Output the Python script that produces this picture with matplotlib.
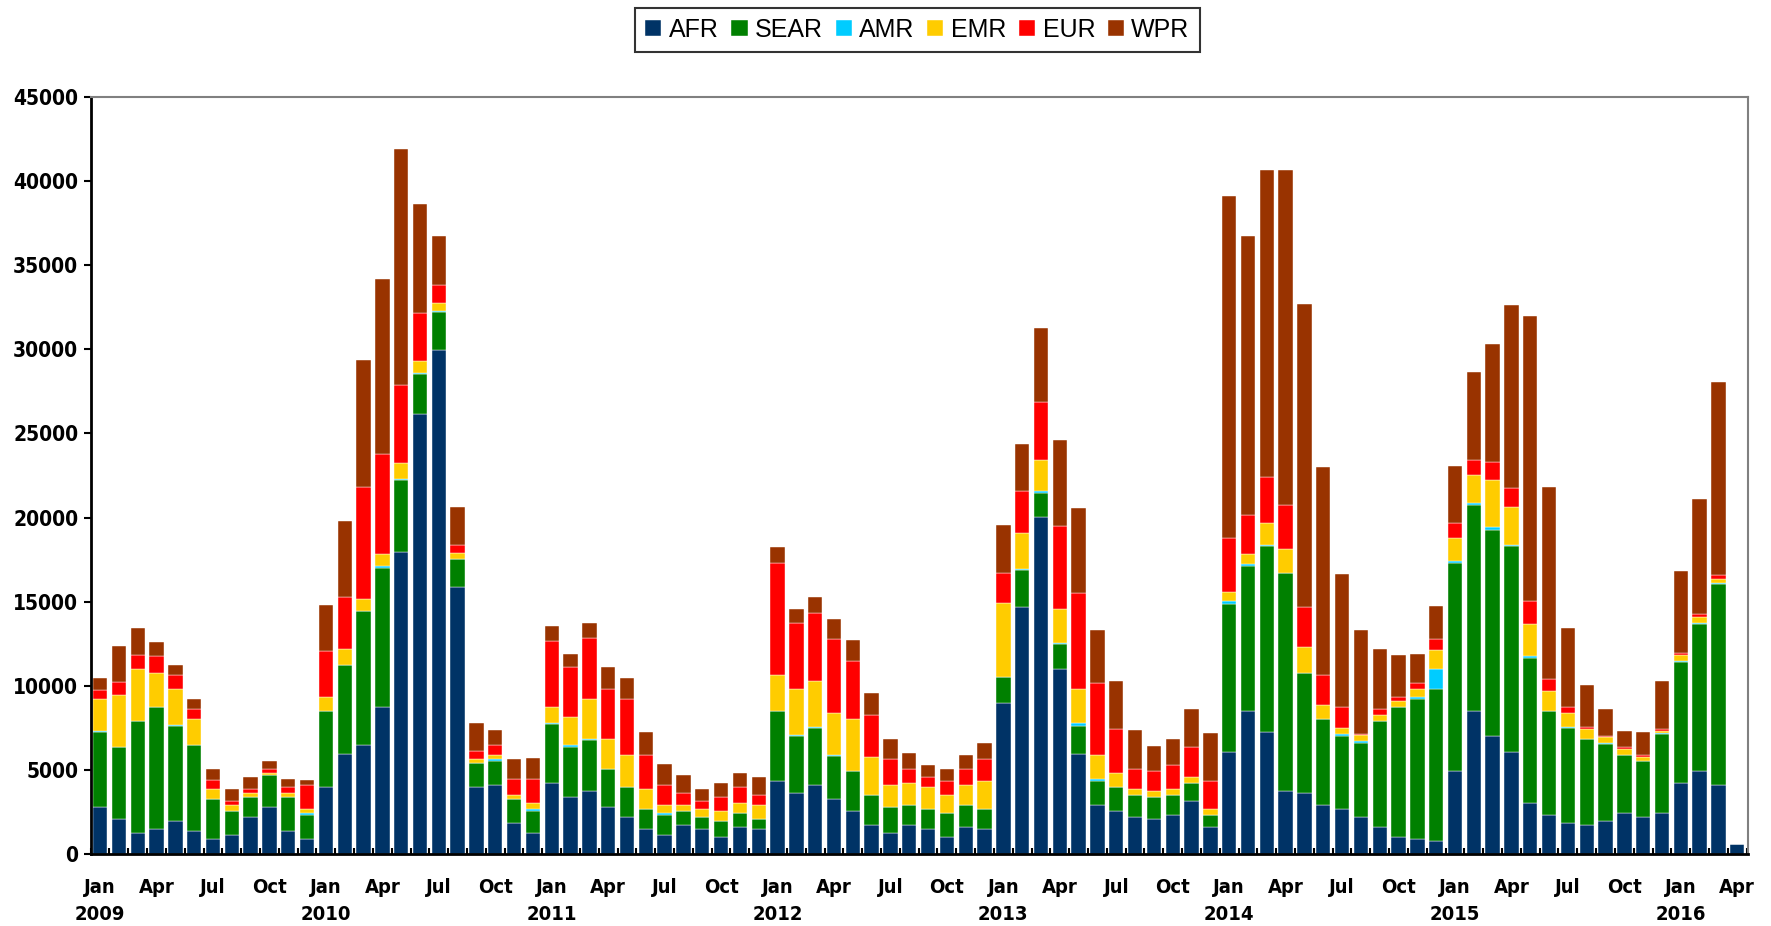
import matplotlib
matplotlib.use("Agg")
import matplotlib.pyplot as plt
import numpy as np
from matplotlib import font_manager

# ---------------- data ----------------
years = [2009, 2010, 2011, 2012, 2013, 2014, 2015, 2016]
month_names = ["Jan", "Feb", "Mar", "Apr", "May", "Jun", "Jul", "Aug", "Sep", "Oct", "Nov", "Dec"]
n_months = 88  # Jan 2009 .. Apr 2016

AFR = [2800, 2070, 1240, 1480, 1950, 1360, 890, 1120, 2190, 2780, 1360, 890,
       3960, 5970, 6450, 8720, 17980, 26170, 29960, 15880, 3960, 4080, 1830, 1240,
       4200, 3370, 3730, 2780, 2190, 1480, 1120, 1720, 1480, 1010, 1600, 1480,
       4320, 3610, 4080, 3250, 2540, 1720, 1240, 1720, 1480, 1010, 1600, 1480,
       8960, 14670, 20050, 10970, 5970, 2900, 2540, 2190, 2070, 2310, 3130, 1600,
       6090, 8490, 7270, 3730, 3610, 2900, 2660, 2190, 1600, 1010, 890, 770,
       4910, 8490, 7040, 6090, 3020, 2310, 1830, 1720, 1950, 2430, 2190, 2430,
       4200, 4910, 4080, 590]
SEAR = [4470, 4260, 6650, 7240, 5680, 5090, 2360, 1420, 1180, 1890, 2010, 1420,
        4520, 5260, 7980, 8280, 4260, 2370, 2280, 1630, 1420, 1420, 1420, 1300,
        3550, 2960, 3070, 2250, 1770, 1180, 1180, 830, 710, 940, 830, 590,
        4170, 3430, 3430, 2600, 2370, 1770, 1540, 1180, 1180, 1420, 1300, 1180,
        1540, 2220, 1390, 1540, 1660, 1420, 1420, 1300, 1300, 1180, 1070, 710,
        8780, 8630, 11060, 12950, 7130, 5120, 4380, 4380, 6300, 7720, 8310, 9020,
        12390, 12240, 12240, 12240, 8630, 6180, 5680, 5090, 4610, 3430, 3310, 4730,
        7220, 8780, 11980, 0]
AMR = [30, 30, 30, 30, 30, 30, 30, 30, 30, 30, 30, 120,
       30, 30, 30, 120, 30, 30, 30, 30, 30, 120, 30, 120,
       30, 120, 30, 30, 30, 30, 120, 30, 30, 30, 30, 30,
       30, 30, 30, 30, 30, 30, 30, 30, 30, 30, 30, 30,
       30, 30, 120, 30, 150, 120, 30, 30, 30, 30, 30, 30,
       150, 120, 30, 30, 30, 30, 120, 120, 30, 30, 120, 1180,
       120, 120, 150, 60, 120, 30, 30, 30, 30, 30, 30, 30,
       30, 30, 30, 0]
EMR = [1920, 3100, 3050, 2010, 2130, 1540, 590, 355, 240, 120, 240, 240,
       830, 920, 710, 740, 950, 710, 470, 360, 240, 240, 240, 355,
       980, 1690, 2400, 1770, 1890, 1180, 470, 355, 470, 590, 590, 830,
       2130, 2750, 2750, 2510, 3100, 2250, 1300, 1300, 1300, 1060, 1180, 1660,
       4380, 2160, 1860, 2040, 2010, 1420, 830, 355, 355, 355, 355, 355,
       560, 620, 1300, 1420, 1540, 830, 355, 355, 355, 355, 470, 1180,
       1390, 1660, 2810, 2250, 1920, 1180, 860, 560, 355, 355, 240, 120,
       355, 355, 240, 0]
EUR = [500, 740, 860, 980, 860, 620, 500, 207, 240, 240, 350, 1420,
       2750, 3100, 6650, 5940, 4640, 2870, 1090, 470, 470, 590, 950, 1420,
       3930, 2990, 3580, 2990, 3340, 2010, 1180, 710, 470, 830, 950, 590,
       6650, 3930, 4050, 4410, 3460, 2510, 1540, 830, 590, 830, 950, 1300,
       1800, 2510, 3460, 4910, 5710, 4320, 2600, 1180, 1180, 1420, 1770, 1660,
       3190, 2280, 2750, 2630, 2390, 1770, 1210, 90, 355, 240, 355, 620,
       890, 920, 1090, 1090, 1330, 710, 355, 120, 90, 90, 120, 90,
       120, 180, 240, 0]
WPR = [770, 2190, 1630, 890, 560, 560, 680, 740, 680, 440, 440, 330,
       2690, 4500, 7570, 10410, 14080, 6500, 2930, 2250, 1660, 920, 1150, 1270,
       890, 770, 920, 1270, 1270, 1390, 1270, 1030, 710, 830, 800, 1030,
       920, 800, 920, 1150, 1240, 1270, 1180, 950, 710, 710, 830, 950,
       2840, 2780, 4380, 5150, 5090, 3140, 2870, 2340, 1510, 1540, 2250, 2810,
       20320, 16590, 18280, 19930, 18010, 12330, 7930, 6180, 3550, 2450, 1740, 1980,
       3370, 5200, 6980, 10880, 16940, 11380, 4700, 2540, 1570, 950, 1390, 2900,
       4880, 6830, 11500, 0]

series_names = ["AFR", "SEAR", "AMR", "EMR", "EUR", "WPR"]
series_values = [AFR, SEAR, AMR, EMR, EUR, WPR]
colors = ["#003366", "#008000", "#00CCFF", "#FFCC00", "#FF0000", "#993300"]

# ---------------- fonts ----------------
available = {f.name for f in font_manager.fontManager.ttflist}
narrow = "Liberation Sans Narrow" if "Liberation Sans Narrow" in available else "DejaVu Sans"
legend_font = "Liberation Sans" if "Liberation Sans" in available else "DejaVu Sans"

# ---------------- figure ----------------
fig = plt.figure(figsize=(17.71, 9.26), dpi=100)
ax = fig.add_axes([0.0512, 0.0778, 0.9356, 0.8174])

x = np.arange(n_months)
bottom = np.zeros(n_months)
handles = []
for name, vals, col in zip(series_names, series_values, colors):
    v = np.array(vals, dtype=float)
    h = ax.bar(x, v, width=0.76, bottom=bottom, color=col, label=name,
               edgecolor="white", linewidth=0.3)
    handles.append(h)
    bottom += v

ax.set_xlim(-0.45, n_months - 0.45)
ax.set_ylim(0, 45000)
ax.set_yticks(np.arange(0, 45001, 5000))
ax.set_yticklabels([str(v) for v in range(0, 45001, 5000)],
                   fontfamily=narrow, fontweight="bold", fontsize=15,
                   fontstretch="condensed")

# month / year tick labels
tick_pos = list(range(0, n_months, 3))
tick_labels = []
for p in tick_pos:
    m = p % 12
    yr = years[p // 12]
    if m == 0:
        tick_labels.append(f"{month_names[m]}\n{yr}")
    else:
        tick_labels.append(month_names[m])
ax.set_xticks(tick_pos)
ax.set_xticklabels(tick_labels, fontfamily=narrow, fontweight="bold",
                   fontsize=14.5, linespacing=1.55, fontstretch="condensed")
ax.tick_params(axis="x", which="major", length=0, pad=17)
ax.set_xticks(np.arange(-0.5, n_months, 1.0), minor=True)
ax.tick_params(axis="x", which="minor", length=4, width=1.5, direction="in", color="black")
ax.tick_params(axis="y", which="major", length=5, width=1.5, direction="out", color="black", pad=4)

for s in ["top", "right"]:
    ax.spines[s].set_color("#808080")
    ax.spines[s].set_linewidth(1.5)
ax.spines["left"].set_color("black")
ax.spines["left"].set_linewidth(2)
ax.spines["bottom"].set_color("black")
ax.spines["bottom"].set_linewidth(2)

leg = fig.legend(handles=handles, labels=series_names, loc="center",
                 bbox_to_anchor=(0.518, 0.968), ncol=6, frameon=True,
                 fancybox=False, edgecolor="black", handlelength=0.65,
                 handleheight=0.65, handletextpad=0.3, columnspacing=0.5,
                 borderpad=0.4, prop={"family": legend_font, "size": 18})
leg.get_frame().set_linewidth(1.5)

fig.savefig("out.png", dpi=100)
